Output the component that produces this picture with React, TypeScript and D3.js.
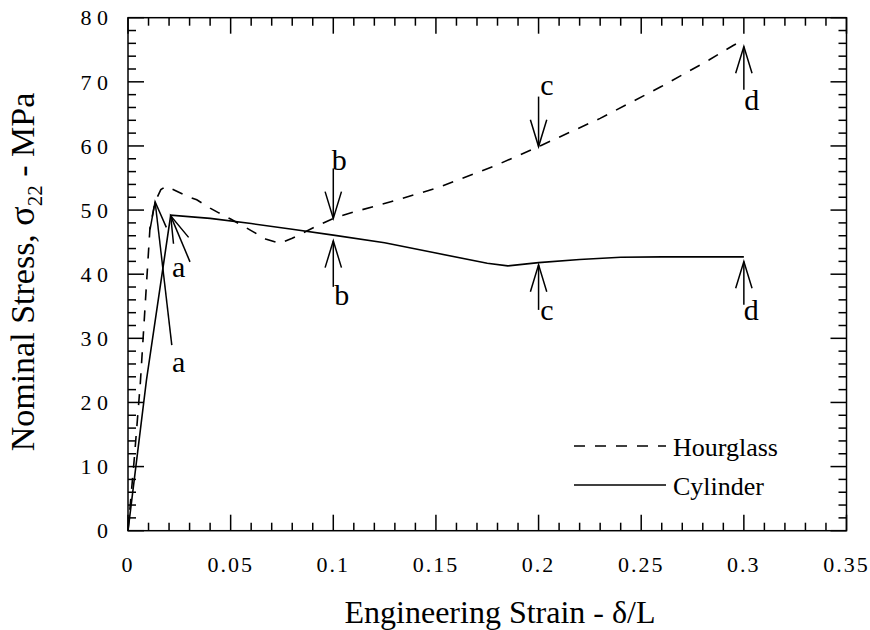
import React from "react";
import * as d3 from "d3";

// ---- data ----
const hourglassStrain = [0, 0.003, 0.006, 0.0107, 0.0132, 0.016, 0.0185, 0.0213, 0.0294, 0.0335, 0.04, 0.044, 0.05, 0.06, 0.067, 0.074, 0.08, 0.09, 0.1, 0.11, 0.128, 0.15, 0.178, 0.2, 0.23, 0.26, 0.283, 0.295, 0.3];
const hourglassStress = [0, 11, 23, 47.2, 51.3, 53.2, 53.7, 53.3, 52.1, 51.6, 50.3, 49.6, 48.6, 46.8, 45.5, 44.8, 45.6, 47.2, 48.7, 49.7, 51.3, 53.4, 56.8, 59.9, 64.3, 69.3, 73.4, 75.7, 76.6];

const cylinderStrain = [0, 0.009, 0.0208, 0.04, 0.06, 0.08, 0.1, 0.125, 0.15, 0.175, 0.185, 0.2, 0.22, 0.24, 0.26, 0.3];
const cylinderStress = [0, 23.5, 49.2, 48.7, 47.9, 47.0, 46.1, 44.9, 43.3, 41.7, 41.3, 41.8, 42.3, 42.65, 42.7, 42.7];

const xTicks = [0, 0.05, 0.1, 0.15, 0.2, 0.25, 0.3, 0.35];
const xTickLabels = ["0", "0.05", "0.1", "0.15", "0.2", "0.25", "0.3", "0.35"];
const yTicks = [0, 10, 20, 30, 40, 50, 60, 70, 80];
const yTickLabels = ["0", "1 0", "2 0", "3 0", "4 0", "5 0", "6 0", "7 0", "8 0"];

const seriesNames = ["Hourglass", "Cylinder"];

const annLabels = ["a", "a", "b", "b", "c", "c", "d", "d"];
const annSeries = ["Cylinder", "Hourglass", "Hourglass", "Cylinder", "Hourglass", "Cylinder", "Hourglass", "Cylinder"];
const annStrain = [0.0208, 0.0132, 0.1, 0.1, 0.2, 0.2, 0.3, 0.3];
const annStress = [49.1, 51.3, 48.7, 45.2, 59.9, 41.45, 75.5, 41.97];

// ---- layout (pixels) ----
const W = 870;
const H = 630;
const left = 128;
const right = 846.5;
const top = 17.7;
const bottom = 530.7;
const FONT = "'Liberation Serif', 'Times New Roman', serif";

// shaft tail offset from tip, and label offset from tip
const annLayout = [
  { tail: [19.3, 46], label: [1.3, 61] },
  { tail: [16.7, 143.3], label: [17, 170] },
  { tail: [0, -50], label: [-1.6, -48] },
  { tail: [0, 46], label: [1, 64] },
  { tail: [0, -50], label: [1.7, -51.7] },
  { tail: [0, 45], label: [1.7, 55] },
  { tail: [0, 43.3], label: [0.3, 63.3] },
  { tail: [0, 43.3], label: [0, 58.3] },
];

export default function App() {
  const x = d3.scaleLinear().domain([0, 0.35]).range([left, right]);
  const y = d3.scaleLinear().domain([0, 80]).range([bottom, top]);

  const line = d3
    .line<[number, number]>()
    .x((d) => x(d[0]))
    .y((d) => y(d[1]));

  const hourglass = hourglassStrain.map((s, i) => [s, hourglassStress[i]] as [number, number]);
  const cylinder = cylinderStrain.map((s, i) => [s, cylinderStress[i]] as [number, number]);

  const xMinor = d3.range(0, 0.3501, 0.01).filter((v) => Math.abs(Math.round(v / 0.05) * 0.05 - v) > 1e-6);
  const yMinor = d3.range(0, 80.01, 2).filter((v) => v % 10 !== 0);

  const majorLen = 16;
  const minorLen = 8;
  const sw = 1.5;

  const ticks: JSX.Element[] = [];
  xTicks.forEach((v, i) => {
    const px = x(v);
    ticks.push(<line key={"xb" + i} x1={px} x2={px} y1={bottom} y2={bottom - majorLen} stroke="#000" strokeWidth={sw} />);
    ticks.push(<line key={"xt" + i} x1={px} x2={px} y1={top} y2={top + majorLen} stroke="#000" strokeWidth={sw} />);
  });
  xMinor.forEach((v, i) => {
    const px = x(v);
    ticks.push(<line key={"xbm" + i} x1={px} x2={px} y1={bottom} y2={bottom - minorLen} stroke="#000" strokeWidth={sw} />);
    ticks.push(<line key={"xtm" + i} x1={px} x2={px} y1={top} y2={top + minorLen} stroke="#000" strokeWidth={sw} />);
  });
  yTicks.forEach((v, i) => {
    const py = y(v);
    ticks.push(<line key={"yl" + i} x1={left} x2={left + majorLen} y1={py} y2={py} stroke="#000" strokeWidth={sw} />);
    ticks.push(<line key={"yr" + i} x1={right} x2={right - majorLen} y1={py} y2={py} stroke="#000" strokeWidth={sw} />);
  });
  yMinor.forEach((v, i) => {
    const py = y(v);
    ticks.push(<line key={"ylm" + i} x1={left} x2={left + minorLen} y1={py} y2={py} stroke="#000" strokeWidth={sw} />);
    ticks.push(<line key={"yrm" + i} x1={right} x2={right - minorLen} y1={py} y2={py} stroke="#000" strokeWidth={sw} />);
  });

  const headLen = 28;
  const headAng = (17 * Math.PI) / 180;

  const arrows = annLabels.map((lab, i) => {
    const tx = x(annStrain[i]);
    const ty = y(annStress[i]);
    const lay = annLayout[i];
    const ex = tx + lay.tail[0];
    const ey = ty + lay.tail[1];
    const ang = Math.atan2(lay.tail[1], lay.tail[0]);
    const h1 = [tx + headLen * Math.cos(ang + headAng), ty + headLen * Math.sin(ang + headAng)];
    const h2 = [tx + headLen * Math.cos(ang - headAng), ty + headLen * Math.sin(ang - headAng)];
    return (
      <g key={"ann" + i} data-series={annSeries[i]}>
        <line x1={tx} y1={ty} x2={ex} y2={ey} stroke="#000" strokeWidth={1.5} />
        <polyline points={`${h1[0]},${h1[1]} ${tx},${ty} ${h2[0]},${h2[1]}`} fill="none" stroke="#000" strokeWidth={1.5} />
        <text x={tx + lay.label[0]} y={ty + lay.label[1]} fontFamily={FONT} fontSize={30} fill="#000">
          {lab}
        </text>
      </g>
    );
  });

  const legendY = [446, 485];

  return (
    <svg width={W} height={H} style={{ position: "absolute", left: 0, top: 0, background: "#fff" }}>
      <rect x={0} y={0} width={W} height={H} fill="#fff" />
      <path d={line(hourglass) || ""} fill="none" stroke="#000" strokeWidth={1.6} strokeDasharray="11,10" />
      <path d={line(cylinder) || ""} fill="none" stroke="#000" strokeWidth={1.6} />
      {arrows}
      <rect x={left} y={top} width={right - left} height={bottom - top} fill="none" stroke="#000" strokeWidth={sw} />
      {ticks}
      {xTicks.map((v, i) => (
        <text key={"xl" + i} x={x(v)} y={572} textAnchor="middle" fontFamily={FONT} fontSize={22} letterSpacing={2}>
          {xTickLabels[i]}
        </text>
      ))}
      {yTicks.map((v, i) => (
        <text key={"ylab" + i} x={108} y={y(v)} dy="0.35em" textAnchor="end" fontFamily={FONT} fontSize={22}>
          {yTickLabels[i]}
        </text>
      ))}
      {/* legend */}
      {seriesNames.map((name, i) => (
        <g key={"leg" + i}>
          <line x1={574} x2={666} y1={legendY[i]} y2={legendY[i]} stroke="#000" strokeWidth={1.6} strokeDasharray={i === 0 ? "11,10" : undefined} />
          <text x={673} y={legendY[i] + 10} fontFamily={FONT} fontSize={26}>
            {name}
          </text>
        </g>
      ))}
      {/* axis titles */}
      <text x={500} y={623} textAnchor="middle" fontFamily={FONT} fontSize={32}>
        Engineering Strain - δ/L
      </text>
      <text transform="translate(34,272) rotate(-90)" textAnchor="middle" fontFamily={FONT} fontSize={34}>
        Nominal Stress, <tspan fontSize={36}>σ</tspan>
        <tspan fontSize={21} dy={8}>22</tspan>
        <tspan dy={-8}> - MPa</tspan>
      </text>
    </svg>
  );
}
